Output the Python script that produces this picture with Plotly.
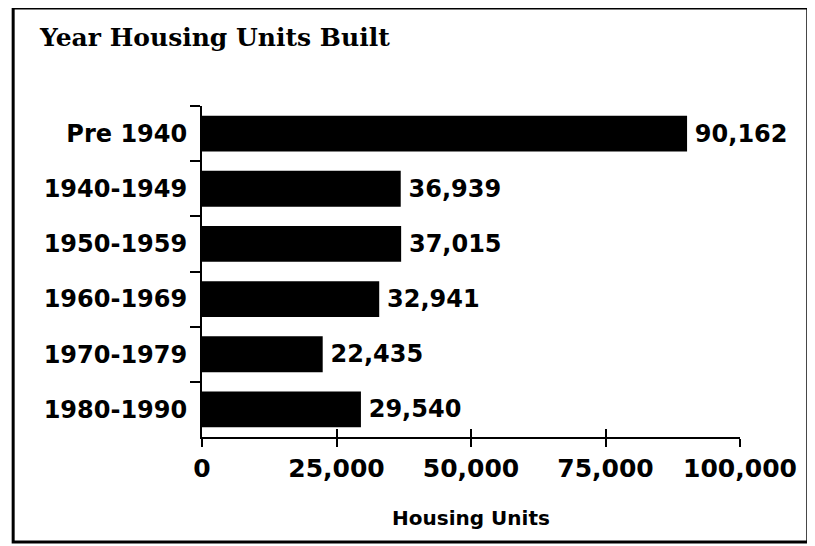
import plotly.graph_objects as go

categories = ["Pre 1940", "1940-1949", "1950-1959", "1960-1969", "1970-1979", "1980-1990"]
units = [90162, 36939, 37015, 32941, 22435, 29540]
value_labels = ["90,162", "36,939", "37,015", "32,941", "22,435", "29,540"]
x_tickvals = [0, 25000, 50000, 75000, 100000]
x_ticktext = ["0", "25,000", "50,000", "75,000", "100,000"]

fig = go.Figure()
fig.add_trace(go.Bar(
    y=categories, x=units, orientation="h",
    marker=dict(color="black", line=dict(width=0)),
    text=value_labels, texttemplate="\u2009%{text}", textposition="outside", cliponaxis=False,
    constraintext="none",
    textfont=dict(family="DejaVu Sans", size=24, color="black", weight="bold"),
    hoverinfo="skip",
))
# invisible companion trace so the overlaid axis (upper half of the crossing ticks) is drawn
fig.add_trace(go.Scatter(x=units, y=categories, xaxis="x2", mode="none", hoverinfo="skip"))

fig.update_layout(
    width=815, height=546, autosize=False,
    margin=dict(l=194, r=83, t=98, b=117),
    paper_bgcolor="white", plot_bgcolor="white",
    showlegend=False, bargap=0.35,
    title=dict(text="Year Housing Units Built", x=32/815, xanchor="left",
               xref="container", yref="container", y=0.963, yanchor="top",
               font=dict(family="DejaVu Serif", size=25, color="black", weight="bold")),
    xaxis=dict(range=[0, 100000], tickvals=x_tickvals, ticktext=x_ticktext,
               showgrid=False, zeroline=False, showline=True, linecolor="black", linewidth=2,
               ticks="outside", ticklen=8, tickwidth=2, tickcolor="black",
               ticklabelstandoff=0,
               tickfont=dict(family="DejaVu Sans", size=25, color="black", weight="bold"),
               title=dict(text="Housing Units", standoff=29,
                          font=dict(family="DejaVu Sans", size=20, color="black", weight="bold"))),
    xaxis2=dict(range=[0, 100000], overlaying="x", side="bottom", anchor="y",
                tickvals=x_tickvals, showticklabels=False, showgrid=False, zeroline=False,
                showline=False, ticks="inside", ticklen=8, tickwidth=2, tickcolor="black"),
    yaxis=dict(categoryorder="array", categoryarray=categories, autorange="reversed",
               showgrid=False, zeroline=False, showline=True, linecolor="black", linewidth=2,
               ticks="outside", tickson="boundaries", ticklen=10, tickwidth=2, tickcolor="black",
               ticklabelstandoff=8,
               tickfont=dict(family="DejaVu Sans", size=24, color="black", weight="bold")),
    shapes=[dict(type="rect", xref="paper", yref="paper",
                 x0=-0.351, x1=1.126, y0=-0.317, y1=1.296,
                 line=dict(color="black", width=3), fillcolor="rgba(0,0,0,0)", layer="below")],
)

fig.write_html("out.html")
